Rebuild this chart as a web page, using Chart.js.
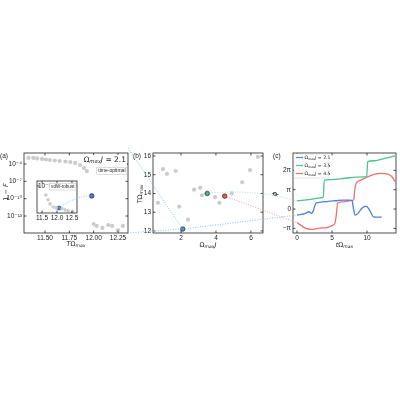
<!DOCTYPE html>
<html>
<head>
<meta charset="utf-8">
<title>Time-optimal gates</title>
<script src="https://cdn.jsdelivr.net/npm/chart.js@4.4.1/dist/chart.umd.min.js"></script>
<style>
  html, body { margin: 0; padding: 0; background: #fff; }
  #figure { position: relative; width: 400px; height: 400px; }
  #figure canvas { position: absolute; left: 0; top: 0; }
</style>
</head>
<body>
<div id="figure">
  <canvas id="panelA" width="400" height="400"></canvas>
  <canvas id="panelInset" width="400" height="400"></canvas>
  <canvas id="panelB" width="400" height="400"></canvas>
  <canvas id="panelC" width="400" height="400"></canvas>
</div>
<script>
// (a) time-optimal infidelity vs gate time, Omega_max J = 2.1
const aT = [11.33, 11.38, 11.42, 11.47, 11.51, 11.55, 11.60, 11.65, 11.71, 11.76, 11.81, 11.86, 11.90, 11.93,
            12.00, 12.03, 12.09, 12.15, 12.19, 12.25, 12.30];
const aInfidelity = [1.1e-3, 1.1e-3, 9e-4, 7.4e-4, 6e-4, 4.9e-4, 4e-4, 3.3e-4, 2.7e-4, 2.2e-4, 1.5e-4, 6.7e-5, 2e-5, 6e-6,
                     4e-15, 1.9e-15, 8.5e-16, 2.8e-15, 1.9e-15, 3.8e-16, 1.9e-15];
const aMarkT = [11.98];
const aMarkInfidelity = [3e-10];
const aXTicks = [11.5, 11.75, 12.0, 12.25];
const aYTicks = [1e-4, 1e-7, 1e-10, 1e-13];

// inset of (a): vdW-robust
const insetT = [11.63, 11.70, 11.77, 11.87, 11.97, 12.17, 12.27, 12.37, 12.53];
const insetInfidelity = [3e-5, 5e-6, 1e-6, 3e-7, 2.2e-7, 1.5e-7, 1e-7, 7e-8, 5e-8];
const insetMarkT = [12.07];
const insetMarkInfidelity = [2e-7];
const insetXTicks = [11.5, 12.0, 12.5];
const insetYTicks = [1e-3];

// (b) gate time vs interaction strength
const bOmegaJ = [0.68, 0.97, 1.2, 1.7, 1.9, 2.4, 2.75, 3.1, 3.2, 3.95, 4.2, 4.9, 5.5, 5.95, 6.4];
const bTOmega = [13.5, 15.3, 15.05, 15.2, 13.3, 12.6, 14.2, 14.3, 13.9, 13.8, 13.5, 14.0, 14.6, 15.25, 15.95];
const bMarkOmegaJ = [2.1, 3.5, 4.5];
const bMarkTOmega = [12.1, 14.0, 13.86];
const bXTicks = [2, 4, 6];
const bYTicks = [12, 13, 14, 15, 16];

// (c) laser phase (units of pi) vs time
const cLabels = ['2.1', '3.5', '4.5'];
const cT21 = [0, 0.6, 1.2, 1.7, 2.05, 2.3, 2.5, 2.75, 3.3, 4.5, 5.5, 6.5, 7.5, 7.85, 8.05, 8.3, 8.7, 9.3, 9.9, 10.4, 10.9, 11.5, 12.1];
const cPhase21 = [-0.31, -0.28, -0.22, -0.14, -0.22, -0.12, 0.12, 0.32, 0.35, 0.40, 0.43, 0.46, 0.46, 0.45, 0.05, -0.32, -0.22, 0.05, 0.15, -0.08, -0.4, -0.42, -0.42];
const cT35 = [0, 1, 2, 3, 3.75, 3.9, 4.5, 5.5, 6.5, 7.5, 8.5, 9.5, 9.95, 10.1, 11, 12, 13, 14];
const cPhase35 = [0.42, 0.46, 0.5, 0.56, 0.6, 1.5, 1.52, 1.54, 1.58, 1.62, 1.65, 1.66, 1.67, 2.45, 2.5, 2.57, 2.66, 2.75];
const cT45 = [0, 0.5, 1, 1.5, 2, 2.5, 3, 3.5, 4, 4.5, 5, 5.4, 5.6, 5.8, 6.5, 7.5, 8.1, 8.25, 8.45, 9, 10, 11, 12, 12.8, 13.5, 14];
const cPhase45 = [-0.7, -0.82, -0.95, -1.02, -1.05, -1.04, -1.0, -0.98, -0.97, -0.93, -0.86, -0.75, -0.35, 0.3, 0.37, 0.43, 0.47, 1.0, 1.33, 1.48, 1.65, 1.8, 1.85, 1.82, 1.7, 1.42];
const cXTicks = [0, 5, 10];
const cYTicks = [-1, 0, 1, 2];
const cYTickLabels = ['−π', '0', 'π', '2π'];

const SANS = "'Liberation Sans', 'DejaVu Sans', sans-serif";
const MATH = "'DejaVu Sans', sans-serif";
const INK = '#222';
const GRAY = '#cbcbcb';
const MARK = ['#4277cf', '#3aa878', '#d95050'];
const LINE = ['#4d80e4', '#4cc28d', '#f07070'];
const LINK = ['#7cc8ee', '#a3dfc4', '#f3a0a0'];

function sup(n) {
  const m = { '-': '⁻', '0': '⁰', '1': '¹', '2': '²', '3': '³', '4': '⁴', '5': '⁵', '6': '⁶', '7': '⁷', '8': '⁸', '9': '⁹' };
  return String(n).split('').map(c => m[c]).join('');
}

// draw text made of pieces: style 'i' italic, 's' subscript
function rich(ctx, x, y, parts, size, align) {
  const font = s => (s.indexOf('i') >= 0 ? 'italic ' : '') + (s.indexOf('s') >= 0 ? size * 0.7 : size) + 'px ' + MATH;
  const widths = parts.map(p => { ctx.font = font(p[1]); return ctx.measureText(p[0]).width; });
  const total = widths.reduce((s, w) => s + w, 0);
  let cx = align === 'center' ? x - total / 2 : (align === 'right' ? x - total : x);
  ctx.textAlign = 'left';
  ctx.textBaseline = 'middle';
  parts.forEach((p, i) => {
    ctx.font = font(p[1]);
    ctx.fillText(p[0], cx, p[1].indexOf('s') >= 0 ? y + size * 0.28 : y);
    cx += widths[i];
  });
  return total;
}

function rotated(ctx, x, y, parts, size) {
  ctx.save();
  ctx.translate(x, y);
  ctx.rotate(-Math.PI / 2);
  rich(ctx, 0, 0, parts, size, 'center');
  ctx.restore();
}

const omegaMax = [['Ω', ''], ['max', 'is']];

function scaleCfg(type, min, max, tickValues, format, fit, extra) {
  return {
    type: type, min: min, max: max,
    grid: { display: false, drawTicks: false },
    border: { display: false },
    afterBuildTicks: s => { s.ticks = tickValues.map(v => ({ value: v })); },
    afterFit: fit,
    ticks: Object.assign({ font: { family: SANS, size: 6.5 }, color: INK, padding: 2, autoSkip: false, maxRotation: 0, callback: format }, extra || {})
  };
}

function makeOptions(box, x, y) {
  return {
    responsive: false,
    animation: false,
    events: [],
    layout: { padding: { left: box.left - box.yw, top: box.top, right: 400 - box.right, bottom: 400 - box.bottom - box.xh } },
    plugins: { legend: { display: false }, tooltip: { enabled: false } },
    scales: { x: x, y: y }
  };
}

// box around the axes with inward ticks on all four sides
const frame = {
  id: 'frame',
  afterDatasetsDraw(chart) {
    const { ctx, chartArea: a } = chart;
    const xs = chart.scales.x, ys = chart.scales.y;
    ctx.save();
    ctx.strokeStyle = INK;
    ctx.lineWidth = 0.8;
    ctx.strokeRect(a.left, a.top, a.right - a.left, a.bottom - a.top);
    ctx.beginPath();
    xs.ticks.forEach(t => {
      const p = xs.getPixelForValue(t.value);
      ctx.moveTo(p, a.bottom); ctx.lineTo(p, a.bottom - 2.5);
      ctx.moveTo(p, a.top); ctx.lineTo(p, a.top + 2.5);
    });
    ys.ticks.forEach(t => {
      const p = ys.getPixelForValue(t.value);
      ctx.moveTo(a.left, p); ctx.lineTo(a.left + 2.5, p);
      ctx.moveTo(a.right, p); ctx.lineTo(a.right - 2.5, p);
    });
    ctx.stroke();
    ctx.restore();
  }
};

function points(xs, ys) { return xs.map((v, i) => ({ x: v, y: ys[i] })); }

// ---------- (a)
const boxA = { left: 24, right: 128, top: 153, bottom: 233, yw: 20, xh: 14 };
const decorA = {
  id: 'decorA',
  afterDraw(chart) {
    const { ctx, chartArea: a } = chart;
    ctx.save();
    ctx.fillStyle = INK;
    ctx.font = '6.5px ' + SANS;
    ctx.textAlign = 'left'; ctx.textBaseline = 'middle';
    ctx.fillText('(a)', 0, 156);
    rich(ctx, (a.left + a.right) / 2, 244, [['T', 'i']].concat(omegaMax), 6.5, 'center');
    rotated(ctx, 6, 192, [['1 − ', ''], ['F', 'i']], 6.5);
    ctx.fillStyle = '#fff';
    ctx.fillRect(84, 155, a.right - 85, 11);
    ctx.fillStyle = INK;
    rich(ctx, a.right - 2, 160, omegaMax.concat([['J', 'i'], [' = 2.1', '']]), 7.5, 'right');
    ctx.font = '5px ' + SANS;
    const w = ctx.measureText('time-optimal').width;
    ctx.fillStyle = '#fff';
    ctx.fillRect(a.right - w - 4, 167.5, w + 3, 7);
    ctx.strokeStyle = '#bbb'; ctx.lineWidth = 0.5;
    ctx.strokeRect(a.right - w - 4, 167.5, w + 3, 7);
    ctx.fillStyle = INK;
    ctx.textAlign = 'right';
    ctx.fillText('time-optimal', a.right - 2.5, 171);
    ctx.restore();
  }
};

const chartA = new Chart(document.getElementById('panelA'), {
  type: 'scatter',
  data: { datasets: [
    { data: points(aT, aInfidelity), backgroundColor: GRAY, borderWidth: 0, pointRadius: 2.1 },
    { data: points(aMarkT, aMarkInfidelity), backgroundColor: MARK[0], borderColor: '#333', borderWidth: 0.7, pointRadius: 2.3 }
  ] },
  options: makeOptions(boxA,
    scaleCfg('linear', 11.284, 12.353, aXTicks, v => v.toFixed(2), s => { s.height = boxA.xh; }, { padding: 1 }),
    scaleCfg('logarithmic', Math.pow(10, -15.94), Math.pow(10, -2.1), aYTicks, v => '10' + sup(Math.round(Math.log10(v))), s => { s.width = boxA.yw; })),
  plugins: [frame, decorA]
});

// ---------- inset
const boxI = { left: 37, right: 77, top: 181, bottom: 213, yw: 0, xh: 12 };
const decorI = {
  id: 'decorI',
  beforeDraw(chart) {
    const { ctx, chartArea: a } = chart;
    ctx.save();
    ctx.fillStyle = '#fff';
    ctx.fillRect(a.left, a.top, a.right - a.left, a.bottom - a.top);
    ctx.restore();
  },
  afterDraw(chart) {
    const { ctx, chartArea: a } = chart;
    ctx.save();
    ctx.font = '4.6px ' + SANS;
    const w = ctx.measureText('vdW-robust').width;
    ctx.fillStyle = '#fff';
    ctx.strokeStyle = '#bbb'; ctx.lineWidth = 0.5;
    ctx.fillRect(a.right - w - 4, a.top + 2.5, w + 3, 6.5);
    ctx.strokeRect(a.right - w - 4, a.top + 2.5, w + 3, 6.5);
    ctx.fillStyle = INK;
    ctx.textAlign = 'right'; ctx.textBaseline = 'middle';
    ctx.fillText('vdW-robust', a.right - 2.5, a.top + 5.8);
    ctx.restore();
  }
};

const chartInset = new Chart(document.getElementById('panelInset'), {
  type: 'scatter',
  data: { datasets: [
    { data: points(insetT, insetInfidelity), backgroundColor: GRAY, borderWidth: 0, pointRadius: 1.8 },
    { data: points(insetMarkT, insetMarkInfidelity), backgroundColor: MARK[0], borderColor: '#333', borderWidth: 0.6, pointRadius: 2 }
  ] },
  options: makeOptions(boxI,
    scaleCfg('linear', 11.33, 12.67, insetXTicks, v => v.toFixed(1), s => { s.height = boxI.xh; }, { padding: 1 }),
    scaleCfg('logarithmic', Math.pow(10, -7.5), Math.pow(10, -2.17), insetYTicks, v => '10' + sup(Math.round(Math.log10(v))), s => { s.width = boxI.yw; }, { mirror: true, padding: 1 })),
  plugins: [decorI, frame]
});

// ---------- (b)
const boxB = { left: 153, right: 263, top: 153, bottom: 233, yw: 20, xh: 14 };
const decorB = {
  id: 'decorB',
  afterDraw(chart) {
    const { ctx, chartArea: a } = chart;
    ctx.save();
    ctx.fillStyle = INK;
    ctx.font = '6.5px ' + SANS;
    ctx.textAlign = 'left'; ctx.textBaseline = 'middle';
    ctx.fillText('(b)', 133, 156);
    rich(ctx, (a.left + a.right) / 2, 245, omegaMax.concat([['J', 'i']]), 6.5, 'center');
    rotated(ctx, 140, 194, [['T', 'i']].concat(omegaMax), 6.5);
    ctx.restore();
  }
};

const chartB = new Chart(document.getElementById('panelB'), {
  type: 'scatter',
  data: { datasets: [
    { data: points(bOmegaJ, bTOmega), backgroundColor: GRAY, borderWidth: 0, pointRadius: 2.1 },
    { data: points(bMarkOmegaJ, bMarkTOmega), backgroundColor: MARK, borderColor: '#333', borderWidth: 0.7, pointRadius: 2.3 }
  ] },
  options: makeOptions(boxB,
    scaleCfg('linear', 0.4, 6.69, bXTicks, v => String(v), s => { s.height = boxB.xh; }, { padding: 1 }),
    scaleCfg('linear', 11.89, 16.16, bYTicks, v => String(v), s => { s.width = boxB.yw; })),
  plugins: [frame, decorB]
});

// ---------- (c)
const boxC = { left: 293, right: 396, top: 153, bottom: 233, yw: 20, xh: 14 };
const cSeriesT = [cT21, cT35, cT45];
const cSeriesPhase = [cPhase21, cPhase35, cPhase45];

function dotted(ctx, color, pts, ctrl) {
  ctx.save();
  ctx.strokeStyle = color;
  ctx.lineWidth = 1;
  ctx.setLineDash([1, 1.5]);
  ctx.beginPath();
  ctx.moveTo(pts[0].x, pts[0].y);
  if (ctrl) ctx.quadraticCurveTo(ctrl.x, ctrl.y, pts[1].x, pts[1].y);
  else ctx.lineTo(pts[1].x, pts[1].y);
  ctx.stroke();
  ctx.restore();
}

const decorC = {
  id: 'decorC',
  afterDraw(chart) {
    const { ctx, chartArea: a } = chart;
    ctx.save();
    ctx.fillStyle = INK;
    ctx.font = '6.5px ' + SANS;
    ctx.textAlign = 'left'; ctx.textBaseline = 'middle';
    ctx.fillText('(c)', 273, 156);
    rich(ctx, (a.left + a.right) / 2, 245, [['t', 'i']].concat(omegaMax), 6.5, 'center');
    rotated(ctx, 275, 194, [['ϕ', 'i']], 7);

    // legend
    ctx.fillStyle = '#fff';
    ctx.strokeStyle = '#ccc'; ctx.lineWidth = 0.5;
    ctx.fillRect(a.left + 1, a.top + 1, 34, 24);
    ctx.strokeRect(a.left + 1, a.top + 1, 34, 24);
    cLabels.forEach((lab, i) => {
      const y = a.top + 4.5 + i * 8;
      ctx.strokeStyle = LINE[i]; ctx.lineWidth = 1.2;
      ctx.beginPath(); ctx.moveTo(a.left + 3, y); ctx.lineTo(a.left + 10, y); ctx.stroke();
      ctx.fillStyle = INK;
      rich(ctx, a.left + 11.5, y, omegaMax.concat([['J', 'i'], [' = ' + lab, '']]), 4.6, 'left');
    });

    // links between panels
    const aa = chartA.chartArea;
    const bx = chartB.scales.x, by = chartB.scales.y;
    const cx = chart.scales.x, cy = chart.scales.y;
    const mark = i => ({ x: bx.getPixelForValue(bMarkOmegaJ[i]), y: by.getPixelForValue(bMarkTOmega[i]) });
    const start = i => ({ x: cx.getPixelForValue(cSeriesT[i][0]), y: cy.getPixelForValue(cSeriesPhase[i][0]) });
    dotted(ctx, LINK[0], [{ x: aa.right, y: aa.top - 5 }, mark(0)]);
    dotted(ctx, LINK[0], [{ x: aa.right, y: aa.bottom }, mark(0)]);
    const ix = chartInset.scales.x, iy = chartInset.scales.y;
    const ax = chartA.scales.x, ay = chartA.scales.y;
    const p0 = { x: ix.getPixelForValue(insetMarkT[0]), y: iy.getPixelForValue(insetMarkInfidelity[0]) };
    const p1 = { x: ax.getPixelForValue(aMarkT[0]), y: ay.getPixelForValue(aMarkInfidelity[0]) };
    dotted(ctx, LINK[0], [p0, p1], { x: (p0.x + p1.x) / 2 + 2, y: p1.y - 1 });
    [0, 1, 2].forEach(i => {
      const m = mark(i), s = start(i);
      const ctrl = i === 1 ? { x: (m.x + s.x) / 2, y: m.y - 5 } : null;
      dotted(ctx, LINK[i], [m, s], ctrl);
    });
    ctx.restore();
  }
};

const chartC = new Chart(document.getElementById('panelC'), {
  type: 'line',
  data: { datasets: cSeriesT.map((ts, i) => ({
    data: points(ts, cSeriesPhase[i]),
    borderColor: LINE[i],
    borderWidth: 1.3,
    pointRadius: 0,
    fill: false,
    cubicInterpolationMode: 'monotone'
  })) },
  options: makeOptions(boxC,
    scaleCfg('linear', -0.57, 14.14, cXTicks, v => String(v), s => { s.height = boxC.xh; }, { padding: 1 }),
    scaleCfg('linear', -1.24, 2.90, cYTicks, (v, i) => cYTickLabels[i], s => { s.width = boxC.yw; })),
  plugins: [frame, decorC]
});
</script>
</body>
</html>
